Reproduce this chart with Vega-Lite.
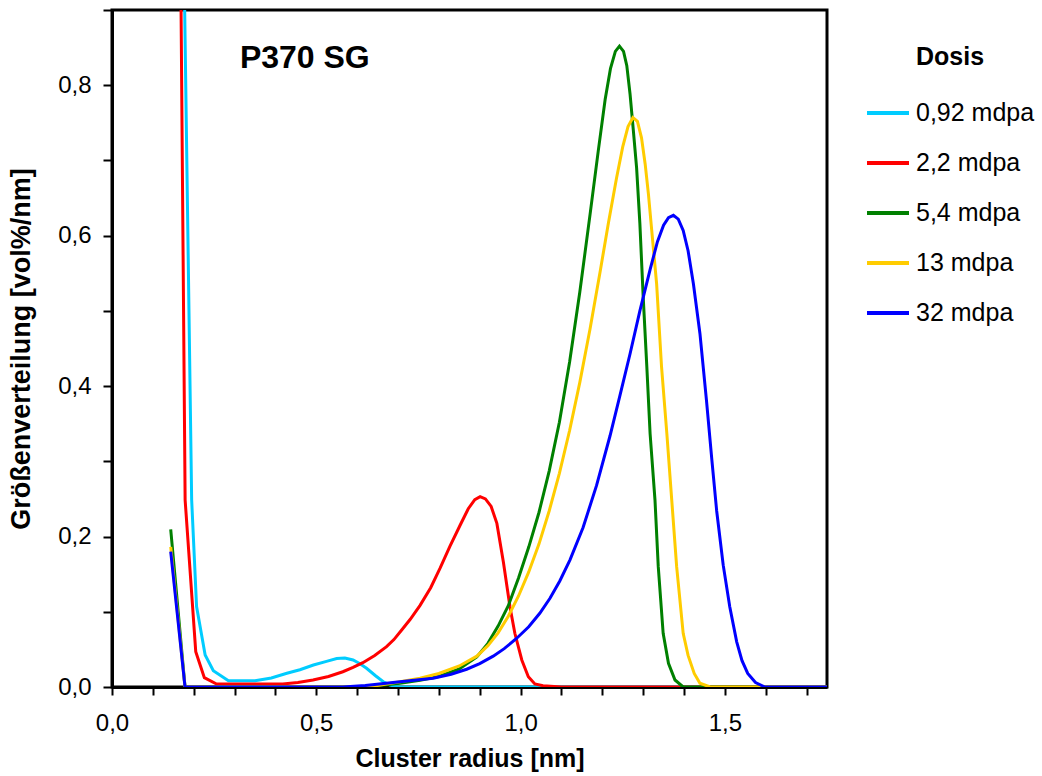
{
  "$schema": "https://vega.github.io/schema/vega-lite/v6.json",
  "width": 715,
  "height": 677,
  "autosize": {"type": "none"},
  "padding": {"left": 112, "top": 10, "right": 215, "bottom": 89},
  "background": "white",
  "config": {
    "font": "Liberation Sans",
    "view": {"stroke": "black", "strokeWidth": 3}
  },
  "datasets": {
    "curves": [
      {"dosis": "0,92 mdpa", "r": 0.17, "v": 1.2},
      {"dosis": "0,92 mdpa", "r": 0.195, "v": 0.2485},
      {"dosis": "0,92 mdpa", "r": 0.207, "v": 0.107},
      {"dosis": "0,92 mdpa", "r": 0.228, "v": 0.0425},
      {"dosis": "0,92 mdpa", "r": 0.248, "v": 0.0217},
      {"dosis": "0,92 mdpa", "r": 0.285, "v": 0.0084},
      {"dosis": "0,92 mdpa", "r": 0.35, "v": 0.0084},
      {"dosis": "0,92 mdpa", "r": 0.39, "v": 0.012},
      {"dosis": "0,92 mdpa", "r": 0.428, "v": 0.0182},
      {"dosis": "0,92 mdpa", "r": 0.46, "v": 0.023},
      {"dosis": "0,92 mdpa", "r": 0.493, "v": 0.0292},
      {"dosis": "0,92 mdpa", "r": 0.525, "v": 0.034},
      {"dosis": "0,92 mdpa", "r": 0.55, "v": 0.0378},
      {"dosis": "0,92 mdpa", "r": 0.57, "v": 0.0385},
      {"dosis": "0,92 mdpa", "r": 0.59, "v": 0.0359},
      {"dosis": "0,92 mdpa", "r": 0.607, "v": 0.031},
      {"dosis": "0,92 mdpa", "r": 0.623, "v": 0.0249},
      {"dosis": "0,92 mdpa", "r": 0.645, "v": 0.015},
      {"dosis": "0,92 mdpa", "r": 0.664, "v": 0.007},
      {"dosis": "0,92 mdpa", "r": 0.68, "v": 0.0027},
      {"dosis": "0,92 mdpa", "r": 0.7, "v": 0},
      {"dosis": "0,92 mdpa", "r": 1.75, "v": 0},

      {"dosis": "2,2 mdpa", "r": 0.14, "v": 2.8},
      {"dosis": "2,2 mdpa", "r": 0.179, "v": 0.2485},
      {"dosis": "2,2 mdpa", "r": 0.205, "v": 0.0469},
      {"dosis": "2,2 mdpa", "r": 0.226, "v": 0.0124},
      {"dosis": "2,2 mdpa", "r": 0.256, "v": 0.004},
      {"dosis": "2,2 mdpa", "r": 0.418, "v": 0.004},
      {"dosis": "2,2 mdpa", "r": 0.455, "v": 0.006},
      {"dosis": "2,2 mdpa", "r": 0.492, "v": 0.0093},
      {"dosis": "2,2 mdpa", "r": 0.53, "v": 0.014},
      {"dosis": "2,2 mdpa", "r": 0.565, "v": 0.0203},
      {"dosis": "2,2 mdpa", "r": 0.59, "v": 0.026},
      {"dosis": "2,2 mdpa", "r": 0.614, "v": 0.0323},
      {"dosis": "2,2 mdpa", "r": 0.643, "v": 0.042},
      {"dosis": "2,2 mdpa", "r": 0.672, "v": 0.0536},
      {"dosis": "2,2 mdpa", "r": 0.69, "v": 0.063},
      {"dosis": "2,2 mdpa", "r": 0.71, "v": 0.0765},
      {"dosis": "2,2 mdpa", "r": 0.73, "v": 0.09},
      {"dosis": "2,2 mdpa", "r": 0.754, "v": 0.1085},
      {"dosis": "2,2 mdpa", "r": 0.78, "v": 0.132},
      {"dosis": "2,2 mdpa", "r": 0.803, "v": 0.158},
      {"dosis": "2,2 mdpa", "r": 0.827, "v": 0.187},
      {"dosis": "2,2 mdpa", "r": 0.852, "v": 0.215},
      {"dosis": "2,2 mdpa", "r": 0.872, "v": 0.237},
      {"dosis": "2,2 mdpa", "r": 0.888, "v": 0.249},
      {"dosis": "2,2 mdpa", "r": 0.901, "v": 0.253},
      {"dosis": "2,2 mdpa", "r": 0.914, "v": 0.25},
      {"dosis": "2,2 mdpa", "r": 0.928, "v": 0.24},
      {"dosis": "2,2 mdpa", "r": 0.942, "v": 0.2175},
      {"dosis": "2,2 mdpa", "r": 0.958, "v": 0.166},
      {"dosis": "2,2 mdpa", "r": 0.974, "v": 0.1067},
      {"dosis": "2,2 mdpa", "r": 0.986, "v": 0.0714},
      {"dosis": "2,2 mdpa", "r": 1.003, "v": 0.0359},
      {"dosis": "2,2 mdpa", "r": 1.019, "v": 0.0137},
      {"dosis": "2,2 mdpa", "r": 1.035, "v": 0.004},
      {"dosis": "2,2 mdpa", "r": 1.055, "v": 0.0017},
      {"dosis": "2,2 mdpa", "r": 1.1, "v": 0},
      {"dosis": "2,2 mdpa", "r": 1.75, "v": 0},

      {"dosis": "5,4 mdpa", "r": 0.1437, "v": 0.2096},
      {"dosis": "5,4 mdpa", "r": 0.1787, "v": 0},
      {"dosis": "5,4 mdpa", "r": 0.6, "v": 0},
      {"dosis": "5,4 mdpa", "r": 0.672, "v": 0.003},
      {"dosis": "5,4 mdpa", "r": 0.705, "v": 0.005},
      {"dosis": "5,4 mdpa", "r": 0.754, "v": 0.009},
      {"dosis": "5,4 mdpa", "r": 0.8, "v": 0.014},
      {"dosis": "5,4 mdpa", "r": 0.85, "v": 0.024},
      {"dosis": "5,4 mdpa", "r": 0.893, "v": 0.04},
      {"dosis": "5,4 mdpa", "r": 0.92, "v": 0.058},
      {"dosis": "5,4 mdpa", "r": 0.945, "v": 0.081},
      {"dosis": "5,4 mdpa", "r": 0.97, "v": 0.108},
      {"dosis": "5,4 mdpa", "r": 0.995, "v": 0.145},
      {"dosis": "5,4 mdpa", "r": 1.02, "v": 0.186},
      {"dosis": "5,4 mdpa", "r": 1.045, "v": 0.232},
      {"dosis": "5,4 mdpa", "r": 1.07, "v": 0.287},
      {"dosis": "5,4 mdpa", "r": 1.095, "v": 0.352},
      {"dosis": "5,4 mdpa", "r": 1.12, "v": 0.432},
      {"dosis": "5,4 mdpa", "r": 1.145, "v": 0.525},
      {"dosis": "5,4 mdpa", "r": 1.17, "v": 0.628},
      {"dosis": "5,4 mdpa", "r": 1.19, "v": 0.712},
      {"dosis": "5,4 mdpa", "r": 1.207, "v": 0.781},
      {"dosis": "5,4 mdpa", "r": 1.22, "v": 0.822},
      {"dosis": "5,4 mdpa", "r": 1.232, "v": 0.845},
      {"dosis": "5,4 mdpa", "r": 1.242, "v": 0.852},
      {"dosis": "5,4 mdpa", "r": 1.252, "v": 0.845},
      {"dosis": "5,4 mdpa", "r": 1.26, "v": 0.826},
      {"dosis": "5,4 mdpa", "r": 1.268, "v": 0.788},
      {"dosis": "5,4 mdpa", "r": 1.276, "v": 0.74},
      {"dosis": "5,4 mdpa", "r": 1.284, "v": 0.69},
      {"dosis": "5,4 mdpa", "r": 1.292, "v": 0.616},
      {"dosis": "5,4 mdpa", "r": 1.3, "v": 0.52},
      {"dosis": "5,4 mdpa", "r": 1.309, "v": 0.426},
      {"dosis": "5,4 mdpa", "r": 1.317, "v": 0.337},
      {"dosis": "5,4 mdpa", "r": 1.329, "v": 0.2485},
      {"dosis": "5,4 mdpa", "r": 1.337, "v": 0.16},
      {"dosis": "5,4 mdpa", "r": 1.349, "v": 0.0714},
      {"dosis": "5,4 mdpa", "r": 1.362, "v": 0.0315},
      {"dosis": "5,4 mdpa", "r": 1.378, "v": 0.0093},
      {"dosis": "5,4 mdpa", "r": 1.398, "v": 0},
      {"dosis": "5,4 mdpa", "r": 1.75, "v": 0},

      {"dosis": "13 mdpa", "r": 0.1437, "v": 0.1864},
      {"dosis": "13 mdpa", "r": 0.1787, "v": 0},
      {"dosis": "13 mdpa", "r": 0.6, "v": 0},
      {"dosis": "13 mdpa", "r": 0.65, "v": 0.002},
      {"dosis": "13 mdpa", "r": 0.705, "v": 0.007},
      {"dosis": "13 mdpa", "r": 0.754, "v": 0.0116},
      {"dosis": "13 mdpa", "r": 0.8, "v": 0.018},
      {"dosis": "13 mdpa", "r": 0.85, "v": 0.028},
      {"dosis": "13 mdpa", "r": 0.893, "v": 0.041},
      {"dosis": "13 mdpa", "r": 0.92, "v": 0.055},
      {"dosis": "13 mdpa", "r": 0.945, "v": 0.072},
      {"dosis": "13 mdpa", "r": 0.97, "v": 0.094},
      {"dosis": "13 mdpa", "r": 0.995, "v": 0.121},
      {"dosis": "13 mdpa", "r": 1.02, "v": 0.153},
      {"dosis": "13 mdpa", "r": 1.045, "v": 0.19},
      {"dosis": "13 mdpa", "r": 1.07, "v": 0.234},
      {"dosis": "13 mdpa", "r": 1.095, "v": 0.284},
      {"dosis": "13 mdpa", "r": 1.12, "v": 0.341},
      {"dosis": "13 mdpa", "r": 1.145, "v": 0.405},
      {"dosis": "13 mdpa", "r": 1.17, "v": 0.476},
      {"dosis": "13 mdpa", "r": 1.195, "v": 0.553},
      {"dosis": "13 mdpa", "r": 1.215, "v": 0.617},
      {"dosis": "13 mdpa", "r": 1.235, "v": 0.677},
      {"dosis": "13 mdpa", "r": 1.25, "v": 0.718},
      {"dosis": "13 mdpa", "r": 1.263, "v": 0.745},
      {"dosis": "13 mdpa", "r": 1.275, "v": 0.757},
      {"dosis": "13 mdpa", "r": 1.286, "v": 0.752},
      {"dosis": "13 mdpa", "r": 1.296, "v": 0.73},
      {"dosis": "13 mdpa", "r": 1.305, "v": 0.695},
      {"dosis": "13 mdpa", "r": 1.313, "v": 0.655},
      {"dosis": "13 mdpa", "r": 1.321, "v": 0.607},
      {"dosis": "13 mdpa", "r": 1.333, "v": 0.536},
      {"dosis": "13 mdpa", "r": 1.345, "v": 0.426},
      {"dosis": "13 mdpa", "r": 1.358, "v": 0.337},
      {"dosis": "13 mdpa", "r": 1.37, "v": 0.2485},
      {"dosis": "13 mdpa", "r": 1.382, "v": 0.16},
      {"dosis": "13 mdpa", "r": 1.398, "v": 0.0714},
      {"dosis": "13 mdpa", "r": 1.41, "v": 0.042},
      {"dosis": "13 mdpa", "r": 1.425, "v": 0.018},
      {"dosis": "13 mdpa", "r": 1.439, "v": 0.005},
      {"dosis": "13 mdpa", "r": 1.464, "v": 0},
      {"dosis": "13 mdpa", "r": 1.75, "v": 0},

      {"dosis": "32 mdpa", "r": 0.1437, "v": 0.18},
      {"dosis": "32 mdpa", "r": 0.1787, "v": 0},
      {"dosis": "32 mdpa", "r": 0.565, "v": 0},
      {"dosis": "32 mdpa", "r": 0.62, "v": 0.002},
      {"dosis": "32 mdpa", "r": 0.705, "v": 0.007},
      {"dosis": "32 mdpa", "r": 0.786, "v": 0.0116},
      {"dosis": "32 mdpa", "r": 0.83, "v": 0.017},
      {"dosis": "32 mdpa", "r": 0.868, "v": 0.0236},
      {"dosis": "32 mdpa", "r": 0.9, "v": 0.031},
      {"dosis": "32 mdpa", "r": 0.933, "v": 0.041},
      {"dosis": "32 mdpa", "r": 0.96, "v": 0.051},
      {"dosis": "32 mdpa", "r": 0.99, "v": 0.0645},
      {"dosis": "32 mdpa", "r": 1.02, "v": 0.08},
      {"dosis": "32 mdpa", "r": 1.047, "v": 0.098},
      {"dosis": "32 mdpa", "r": 1.072, "v": 0.118},
      {"dosis": "32 mdpa", "r": 1.096, "v": 0.141},
      {"dosis": "32 mdpa", "r": 1.121, "v": 0.169},
      {"dosis": "32 mdpa", "r": 1.153, "v": 0.212},
      {"dosis": "32 mdpa", "r": 1.186, "v": 0.268},
      {"dosis": "32 mdpa", "r": 1.219, "v": 0.334},
      {"dosis": "32 mdpa", "r": 1.243, "v": 0.387},
      {"dosis": "32 mdpa", "r": 1.268, "v": 0.443},
      {"dosis": "32 mdpa", "r": 1.292, "v": 0.5},
      {"dosis": "32 mdpa", "r": 1.317, "v": 0.555},
      {"dosis": "32 mdpa", "r": 1.335, "v": 0.592},
      {"dosis": "32 mdpa", "r": 1.35, "v": 0.614},
      {"dosis": "32 mdpa", "r": 1.362, "v": 0.624},
      {"dosis": "32 mdpa", "r": 1.374, "v": 0.627},
      {"dosis": "32 mdpa", "r": 1.386, "v": 0.622},
      {"dosis": "32 mdpa", "r": 1.398, "v": 0.607},
      {"dosis": "32 mdpa", "r": 1.41, "v": 0.58},
      {"dosis": "32 mdpa", "r": 1.423, "v": 0.536},
      {"dosis": "32 mdpa", "r": 1.439, "v": 0.47},
      {"dosis": "32 mdpa", "r": 1.455, "v": 0.381},
      {"dosis": "32 mdpa", "r": 1.468, "v": 0.303},
      {"dosis": "32 mdpa", "r": 1.48, "v": 0.234},
      {"dosis": "32 mdpa", "r": 1.496, "v": 0.162},
      {"dosis": "32 mdpa", "r": 1.512, "v": 0.1067},
      {"dosis": "32 mdpa", "r": 1.529, "v": 0.06},
      {"dosis": "32 mdpa", "r": 1.542, "v": 0.035},
      {"dosis": "32 mdpa", "r": 1.556, "v": 0.018},
      {"dosis": "32 mdpa", "r": 1.575, "v": 0.006},
      {"dosis": "32 mdpa", "r": 1.598, "v": 0},
      {"dosis": "32 mdpa", "r": 1.75, "v": 0}
    ]
  },
  "layer": [
    {
      "data": {"name": "curves"},
      "mark": {"type": "line", "clip": true, "strokeWidth": 3, "interpolate": "linear"},
      "encoding": {
        "x": {
          "field": "r",
          "type": "quantitative",
          "scale": {"domain": [0, 1.75], "nice": false, "zero": false},
          "axis": {
            "title": "Cluster radius [nm]",
            "values": [0, 0.1, 0.2, 0.3, 0.4, 0.5, 0.6, 0.7, 0.8, 0.9, 1.0, 1.1, 1.2, 1.3, 1.4, 1.5, 1.6, 1.7],
            "labelExpr": "round(datum.value*10) % 5 == 0 ? replace(format(datum.value, '.1f'), '.', ',') : ''",
            "grid": false,
            "labelOverlap": false,
            "labelFlush": false,
            "tickSize": 8,
            "tickWidth": 2,
            "tickColor": "black",
            "domainColor": "black",
            "domainWidth": 3,
            "labelFontSize": 24,
            "labelColor": "black",
            "labelPadding": 16,
            "titleFontSize": 25,
            "titleFontWeight": "bold",
            "titleColor": "black",
            "titlePadding": 11
          }
        },
        "y": {
          "field": "v",
          "type": "quantitative",
          "scale": {"domain": [0, 0.9], "nice": false},
          "axis": {
            "title": "Größenverteilung  [vol%/nm]",
            "values": [0, 0.1, 0.2, 0.3, 0.4, 0.5, 0.6, 0.7, 0.8, 0.9],
            "labelExpr": "(round(datum.value*10) % 2 == 0 && datum.value < 0.85) ? replace(format(datum.value, '.1f'), '.', ',') : ''",
            "grid": false,
            "labelOverlap": false,
            "labelFlush": false,
            "tickSize": 9,
            "tickWidth": 2,
            "tickColor": "black",
            "domainColor": "black",
            "domainWidth": 3,
            "labelFontSize": 24,
            "labelColor": "black",
            "labelPadding": 12,
            "titleFontSize": 27,
            "titleFontWeight": "bold",
            "titleColor": "black",
            "titlePadding": 22
          }
        },
        "color": {
          "field": "dosis",
          "type": "nominal",
          "scale": {
            "domain": ["0,92 mdpa", "2,2 mdpa", "5,4 mdpa", "13 mdpa", "32 mdpa"],
            "range": ["#00CCFF", "#FF0000", "#008000", "#FFCC00", "#0000FF"]
          },
          "legend": {
            "orient": "none",
            "legendX": 753,
            "legendY": 35,
            "title": "Dosis",
            "titleFontSize": 25,
            "titleFontWeight": "bold",
            "titleColor": "black",
            "titleAnchor": "middle",
            "titlePadding": 20,
            "labelFontSize": 25,
            "labelColor": "black",
            "labelOffset": 5,
            "symbolType": "stroke",
            "symbolSize": 1764,
            "symbolStrokeWidth": 4,
            "rowPadding": 14
          }
        }
      }
    },
    {
      "data": {"values": [{"label": "P370 SG"}]},
      "mark": {"type": "text", "align": "left", "baseline": "alphabetic", "fontSize": 32, "fontWeight": "bold", "color": "black"},
      "encoding": {
        "x": {"datum": 0.313, "type": "quantitative"},
        "y": {"datum": 0.823, "type": "quantitative"},
        "text": {"field": "label"}
      }
    }
  ]
}
